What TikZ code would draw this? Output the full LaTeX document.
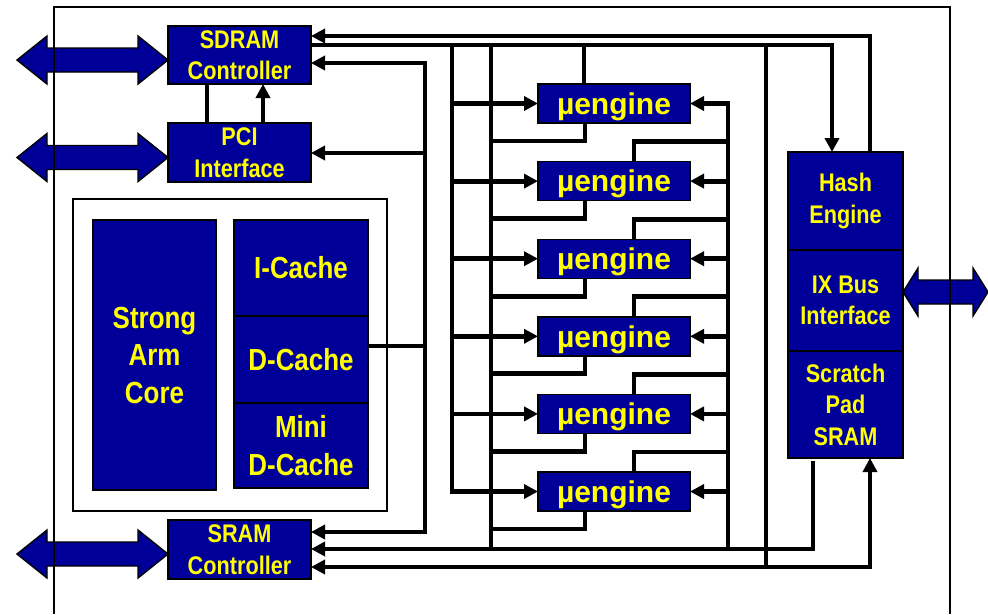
\documentclass[tikz,border=0pt]{standalone}
\usepackage{fontspec}
\setmainfont{Liberation Sans}
\newfontfamily\narrowfont{Liberation Sans}[FakeStretch=0.85]
\usetikzlibrary{arrows.meta,positioning}
\definecolor{chipblue}{HTML}{000099}
\definecolor{chipyellow}{HTML}{FFFF00}

\newcommand{\fatbus}[4]{%
  \filldraw[busarrow] (#1,#3) -- ++(#4,-24) -- ++(0,12) -- ({#2-#4},{#3-12})
    -- ++(0,-12) -- (#2,#3) -- ++(-#4,24) -- ++(0,-12) -- ({#1+#4},{#3+12})
    -- ++(0,12) -- cycle;}

\begin{document}
\begin{tikzpicture}[x=1pt,y=-1pt]
\tikzset{
  block/.style={draw, line width=1.4pt, fill=chipblue, text=chipyellow, align=center,
    inner sep=0pt, outer sep=0pt, font=\narrowfont\bfseries\fontsize{25.5}{31.5}\selectfont},
  bigblock/.style={block, font=\narrowfont\bfseries\fontsize{30.5}{37.5}\selectfont},
  engine/.style={block, minimum width=152pt, minimum height=39pt, text depth=0pt,
    font=\bfseries\fontsize{30}{36}\selectfont},
  link/.style={line width=4.8pt},
  feed/.style={link, -{Triangle[length=14pt,width=14pt]}},
  feedboth/.style={link, {Triangle[length=14pt,width=14pt]}-{Triangle[length=14pt,width=14pt]}},
  busarrow/.style={fill=chipblue, draw, line width=1.4pt, line join=miter},
  frame/.style={line width=1.3pt}
}
\useasboundingbox (0,0) rectangle (988,614);

\node[block, minimum width=143pt, minimum height=58pt] (sdram) at (239.5,55) {SDRAM\\Controller};
\node[block, minimum width=143pt, minimum height=59pt] (pci) at (239.5,152.5) {PCI\\Interface};
\node[block, minimum width=143pt, minimum height=59pt] (sram) at (239.5,549.5) {SRAM\\Controller};

\node[draw, line width=1.3pt, fill=white, outer sep=0pt, minimum width=314pt, minimum height=312pt] (core) at (230,355) {};
\node[bigblock, minimum width=123pt, minimum height=270pt] (arm) at (154.5,355) {Strong\\Arm\\Core};
\node[bigblock, minimum width=134pt, minimum height=96pt] (icache) at (301,268) {I-Cache};
\node[bigblock, minimum width=134pt, minimum height=87pt, below=0pt of icache] (dcache) {D-Cache};
\node[bigblock, minimum width=134pt, minimum height=85pt, below=0pt of dcache] (mini) {Mini\\D-Cache};

\node[engine] (ue1) at (614,103.5) {µengine};
\node[engine, below=38.6pt of ue1] (ue2) {µengine};
\node[engine, below=38.6pt of ue2] (ue3) {µengine};
\node[engine, below=38.6pt of ue3] (ue4) {µengine};
\node[engine, below=38.6pt of ue4] (ue5) {µengine};
\node[engine, below=38.6pt of ue5] (ue6) {µengine};

\node[block, minimum width=115pt, minimum height=98pt] (hash) at (845.5,201) {Hash\\Engine};
\node[block, minimum width=115pt, minimum height=101pt, below=0pt of hash] (ixbus) {IX Bus\\Interface};
\node[block, minimum width=115pt, minimum height=107pt, below=0pt of ixbus] (scratch) {Scratch\\Pad\\SRAM};

\draw[feed] (hash.north -| 870,0) |- (sdram.east |- 0,36);
\draw[feed] (sdram.east |- 0,45) -| (hash.north -| 832,0);
\draw[feedboth] (sdram.east |- 0,63) -| (425,532) -- (sram.east |- 0,532);
\draw[feed] (425,153) -- (pci.east |- 0,153);
\draw[link] (dcache.east |- 0,346) -- (425,346);
\draw[link] (pci.north -| 207,0) -- (sdram.south -| 207,0);
\draw[feed] (pci.north -| 263,0) -- (sdram.south -| 263,0);

\draw[feed] (452,45) |- (ue6.west);
\draw[link] (491,45) -- (491,549);
\draw[link] (766,45) -- (766,567);
\draw[feed] (728,549) |- (ue1.east);
\draw[link] ([xshift=-30pt]ue1.north) -- ++(0,-39);
\foreach \i in {1,...,5} \draw[feed] (ue\i.west -| 452,0) -- (ue\i.west);
\foreach \i in {2,...,6} {
  \draw[feed] (ue\i.east -| 728,0) -- (ue\i.east);
  \draw[link] ([xshift=20pt]ue\i.north) -- ++(0,-20) -- ++(94,0);
}
\foreach \i in {1,...,6} \draw[link] ([xshift=-29pt]ue\i.south) -- ++(0,18) -- ++(-94,0);

\draw[feed] ([xshift=-32.5pt,yshift=-3pt]scratch.south) |- (sram.east |- 0,549);
\draw[feedboth] (sram.east |- 0,567) -| (scratch.south -| 870,0);

\fatbus{17}{168}{60}{30}
\fatbus{17}{168}{157.5}{30}
\fatbus{17}{168}{554}{30}
\fatbus{903}{988}{292}{15}

\draw[frame] (54,614) -- (54,7) -- (950,7) -- (950,614);
\end{tikzpicture}
\end{document}
